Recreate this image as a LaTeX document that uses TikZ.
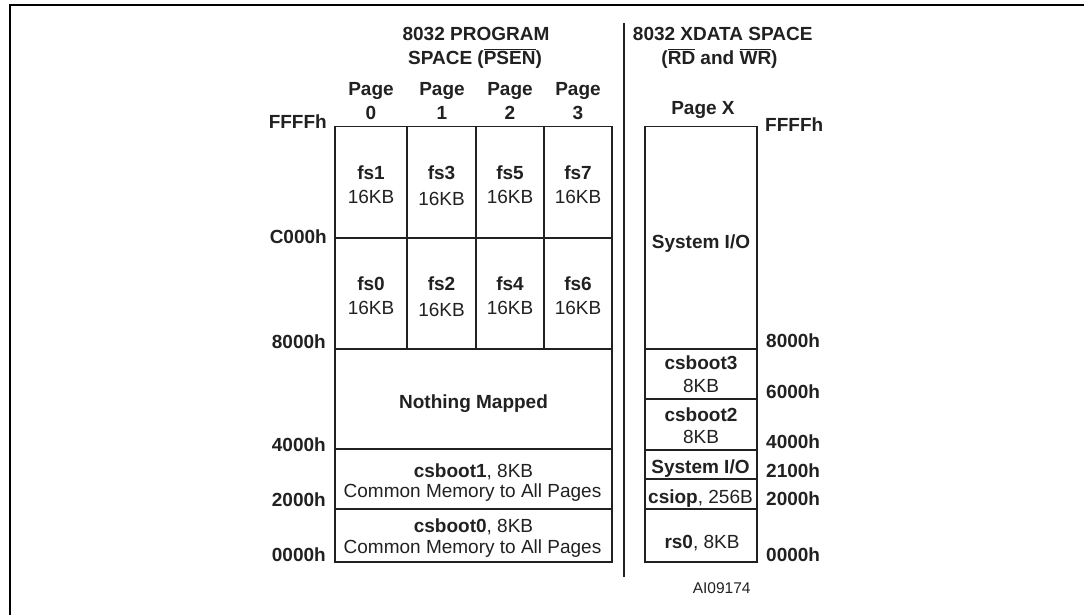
\documentclass[tikz,border=0pt]{standalone}
\usepackage{fontspec}
\setmainfont{Liberation Sans}
\definecolor{ink}{rgb}{0.13,0.13,0.13}
\newcommand\bigfs{\fontsize{19}{23}\selectfont}
\newcommand\smallfs{\fontsize{15.5}{19}\selectfont}
\begin{document}
\begin{tikzpicture}[x=1pt,y=-1pt,
  box/.style={draw=ink, line width=1.9pt},
  bl/.style={inner sep=0pt, anchor=base, font=\bigfs\bfseries, text=ink},
  rl/.style={inner sep=0pt, anchor=base, font=\bigfs, text=ink},
  addrL/.style={inner sep=0pt, anchor=base east, font=\bigfs\bfseries, text=ink},
  addrR/.style={inner sep=0pt, anchor=base west, font=\bigfs\bfseries, text=ink}]
\useasboundingbox (0,0) rectangle (1084,614);
% frame
\draw[line width=2.7pt, black] (10,620) -- (10,5) -- (1090,5);
% headings
\node[bl] (h1a) at (476,40) {8032 PROGRAM};
\node[bl] (h1b) at (475,64) {SPACE ($\overline{\mbox{PSEN}}$)};
\node[bl] (h2a) at (722.7,40) {8032 XDATA SPACE};
\node[bl] (h2b) at (719.5,64) {($\overline{\mbox{RD}}$ and $\overline{\mbox{WR}}$)};
% page labels
\node[bl] (p0a) at (371,95) {Page};
\node[bl] (p0b) at (371,119) {0};
\node[bl] (p1a) at (442,95) {Page};
\node[bl] (p1b) at (442,119) {1};
\node[bl] (p2a) at (510,95) {Page};
\node[bl] (p2b) at (510,119) {2};
\node[bl] (p3a) at (578,95) {Page};
\node[bl] (p3b) at (578,119) {3};
\node[bl] (pX) at (703,114) {Page X};
% program space grid
\draw[box] (335,126.5) rectangle (611.7,562.3);
\draw[box] (335,238.3) -- (611.7,238.3);
\draw[box] (335,349) -- (611.7,349);
\draw[box] (335,449.3) -- (611.7,449.3);
\draw[box] (335,509) -- (611.7,509);
\draw[box] (406.7,126.5) -- (406.7,349);
\draw[box] (476,126.5) -- (476,349);
\draw[box] (544.3,126.5) -- (544.3,349);
% divider
\draw[draw=ink, line width=1.9pt] (624,23.3) -- (624,576.7);
% xdata box
\draw[box] (645,126.5) rectangle (756.7,562.3);
\draw[box] (645,349) -- (756.7,349);
\draw[box] (645,399.3) -- (756.7,399.3);
\draw[box] (645,450) -- (756.7,450);
\draw[box] (645,479) -- (756.7,479);
\draw[box] (645,509) -- (756.7,509);
% cells: upper row
\node[bl] (fs1) at (371,179) {fs1};
\node[rl] (fs1k) at (371,203) {16KB};
\node[bl] (fs3) at (441.5,179) {fs3};
\node[rl] (fs3k) at (441.5,205) {16KB};
\node[bl] (fs5) at (510,179) {fs5};
\node[rl] (fs5k) at (510,203) {16KB};
\node[bl] (fs7) at (578,179) {fs7};
\node[rl] (fs7k) at (578,203) {16KB};
% cells: lower row
\node[bl] (fs0) at (371,290) {fs0};
\node[rl] (fs0k) at (371,314) {16KB};
\node[bl] (fs2) at (441.5,290) {fs2};
\node[rl] (fs2k) at (441.5,316) {16KB};
\node[bl] (fs4) at (510,290) {fs4};
\node[rl] (fs4k) at (510,314) {16KB};
\node[bl] (fs6) at (578,290) {fs6};
\node[rl] (fs6k) at (578,314) {16KB};
% lower program areas
\node[bl] (nm) at (473.5,408) {Nothing Mapped};
\node[rl] (cb1) at (473.5,477) {\textbf{csboot1}, 8KB};
\node[rl] (cb1c) at (472.5,497) {Common Memory to All Pages};
\node[rl] (cb0) at (473.5,532) {\textbf{csboot0}, 8KB};
\node[rl] (cb0c) at (472.5,553) {Common Memory to All Pages};
% xdata areas
\node[bl] (sio1) at (701,248) {System I/O};
\node[bl] (cb3) at (701,369) {csboot3};
\node[rl] (cb3k) at (701,392) {8KB};
\node[bl] (cb2) at (701,421) {csboot2};
\node[rl] (cb2k) at (701,443) {8KB};
\node[bl] (sio2) at (700.5,473) {System I/O};
\node[rl] (csiop) at (700.5,503) {\textbf{csiop}, 256B};
\node[rl] (rs0) at (702,548) {\textbf{rs0}, 8KB};
% left addresses
\node[addrL] (aL1) at (327,128) {FFFFh};
\node[addrL] (aL2) at (327,243) {C000h};
\node[addrL] (aL3) at (326,348) {8000h};
\node[addrL] (aL4) at (326,451) {4000h};
\node[addrL] (aL5) at (326,506) {2000h};
\node[addrL] (aL6) at (326,561) {0000h};
% right addresses
\node[addrR] (aR1) at (765,131) {FFFFh};
\node[addrR] (aR2) at (766,347) {8000h};
\node[addrR] (aR3) at (766,398) {6000h};
\node[addrR] (aR4) at (766,448) {4000h};
\node[addrR] (aR5) at (766,477) {2100h};
\node[addrR] (aR6) at (766,505) {2000h};
\node[addrR] (aR7) at (766,561) {0000h};
% figure id
\node[inner sep=0pt, anchor=base, font=\smallfs, text=ink] (id) at (721.7,593) {AI09174};
\end{tikzpicture}
\end{document}
